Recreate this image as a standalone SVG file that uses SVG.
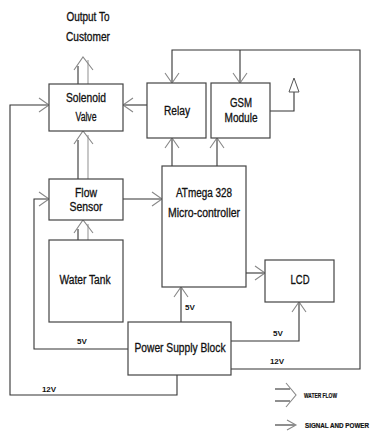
<svg xmlns="http://www.w3.org/2000/svg" width="377" height="436" viewBox="0 0 377 436">
<style>
.box{fill:#fff;stroke:#444;stroke-width:1.2}
.t{font-family:"Liberation Sans",Arial,sans-serif;font-size:12px;fill:#111;stroke:#111;stroke-width:0.3;text-anchor:middle}
.s{font-family:"Liberation Sans",Arial,sans-serif;font-size:8px;font-weight:bold;fill:#111;text-anchor:middle}
.lg{font-family:"Liberation Sans",Arial,sans-serif;font-size:7px;font-weight:bold;fill:#111;stroke:#111;stroke-width:0.2}
.ln{fill:none;stroke:#333;stroke-width:1.1}
.wf{fill:none;stroke:#333;stroke-width:1.1}
.wf2{fill:none;stroke:#aaa;stroke-width:1.3}
.chev{fill:none;stroke:#888;stroke-width:1.1}
</style>
<defs>
<marker id="arr" markerUnits="userSpaceOnUse" markerWidth="14" markerHeight="16" viewBox="-11 -8 12 16" refX="0" refY="0" orient="auto">
<path d="M-10,-7 L0,0 L-10,7" fill="none" stroke="#888" stroke-width="1.1"/>
</marker>
</defs>
<rect width="377" height="436" fill="#fff"/>
<g id="connectors">
<line class="ln" x1="147" y1="105" x2="123" y2="105" marker-end="url(#arr)"/>
<polyline class="ln" points="177,375 177,395 10,395 10,105 49,105" marker-end="url(#arr)"/>
<polyline class="ln" points="231,369 360,369 360,50 172,50 172,83" marker-end="url(#arr)"/>
<line class="ln" x1="240" y1="50" x2="240" y2="83" marker-end="url(#arr)"/>
<polyline class="ln" points="270,111 294,111 294,92"/>
<polygon points="294,78 289,92 299,92" fill="#fff" stroke="#555" stroke-width="1"/>
<line class="ln" x1="172" y1="166" x2="172" y2="138" marker-end="url(#arr)"/>
<line class="ln" x1="217" y1="166" x2="217" y2="138" marker-end="url(#arr)"/>
<line class="ln" x1="123" y1="199" x2="162" y2="199" marker-end="url(#arr)"/>
<polyline class="ln" points="128,349 34,349 34,199 49,199" marker-end="url(#arr)"/>
<line class="ln" x1="246" y1="273" x2="265" y2="273" marker-end="url(#arr)"/>
<line class="ln" x1="181" y1="322" x2="181" y2="287" marker-end="url(#arr)"/>
<polyline class="ln" points="231,341 299,341 299,302" marker-end="url(#arr)"/>
<line class="wf" x1="78" y1="84" x2="78" y2="66"/>
<line class="wf2" x1="88" y1="84" x2="88" y2="60"/>
<polyline class="chev" points="74,70 83,57 93,70"/>
<line class="wf" x1="78" y1="179" x2="78" y2="140"/>
<line class="wf2" x1="88" y1="179" x2="88" y2="135"/>
<polyline class="chev" points="74,144 83,131 93,144"/>
<line class="wf" x1="78" y1="240" x2="78" y2="229"/>
<line class="wf2" x1="88" y1="240" x2="88" y2="224"/>
<polyline class="chev" points="74,233 83,220 93,233"/>
</g>
<g id="solenoid"><rect class="box" x="49" y="84" width="74" height="47"/>
<text class="t" x="86" y="102" textLength="40" lengthAdjust="spacingAndGlyphs">Solenoid</text>
<text class="t" x="86" y="121" textLength="21" lengthAdjust="spacingAndGlyphs">Valve</text></g>
<g id="relay"><rect class="box" x="147" y="83" width="59" height="55"/>
<text class="t" x="177" y="115" textLength="26" lengthAdjust="spacingAndGlyphs">Relay</text></g>
<g id="gsm"><rect class="box" x="211" y="83" width="59" height="55"/>
<text class="t" x="241" y="107" textLength="22" lengthAdjust="spacingAndGlyphs">GSM</text>
<text class="t" x="241" y="122" textLength="33" lengthAdjust="spacingAndGlyphs">Module</text></g>
<g id="flow"><rect class="box" x="49" y="179" width="74" height="41"/>
<text class="t" x="86" y="197" textLength="22" lengthAdjust="spacingAndGlyphs">Flow</text>
<text class="t" x="86" y="211" textLength="33" lengthAdjust="spacingAndGlyphs">Sensor</text></g>
<g id="tank"><rect class="box" x="49" y="240" width="74" height="82"/>
<text class="t" x="85" y="284" textLength="51" lengthAdjust="spacingAndGlyphs">Water Tank</text></g>
<g id="mcu"><rect class="box" x="162" y="166" width="84" height="121"/>
<text class="t" x="204" y="197" textLength="56" lengthAdjust="spacingAndGlyphs">ATmega 328</text>
<text class="t" x="204" y="217" textLength="72" lengthAdjust="spacingAndGlyphs">Micro-controller</text></g>
<g id="lcd"><rect class="box" x="265" y="260" width="69" height="42"/>
<text class="t" x="300" y="284" textLength="19" lengthAdjust="spacingAndGlyphs">LCD</text></g>
<g id="psu"><rect class="box" x="128" y="322" width="103" height="53"/>
<text class="t" x="180" y="352" textLength="91" lengthAdjust="spacingAndGlyphs">Power Supply Block</text></g>
<g id="output"><text class="t" x="88" y="21" textLength="43" lengthAdjust="spacingAndGlyphs">Output To</text>
<text class="t" x="88" y="41" textLength="44" lengthAdjust="spacingAndGlyphs">Customer</text></g>
<g id="labels">
<text class="s" x="82" y="344">5V</text>
<text class="s" x="49" y="392">12V</text>
<text class="s" x="190" y="310">5V</text>
<text class="s" x="278" y="336">5V</text>
<text class="s" x="277" y="364">12V</text>
</g>
<g id="legend">
<line class="wf" x1="275" y1="389" x2="290" y2="389"/>
<line class="wf" x1="275" y1="401" x2="290" y2="401"/>
<polyline class="chev" points="286,383 296,395 286,407"/>
<text class="lg" x="304" y="398" textLength="33" lengthAdjust="spacingAndGlyphs">WATER FLOW</text>
<line class="wf" x1="275" y1="425" x2="295" y2="425"/>
<polyline class="chev" points="287,420 296,425 287,430"/>
<text class="lg" x="305" y="428" textLength="64" lengthAdjust="spacingAndGlyphs">SIGNAL AND POWER</text>
</g>
</svg>
